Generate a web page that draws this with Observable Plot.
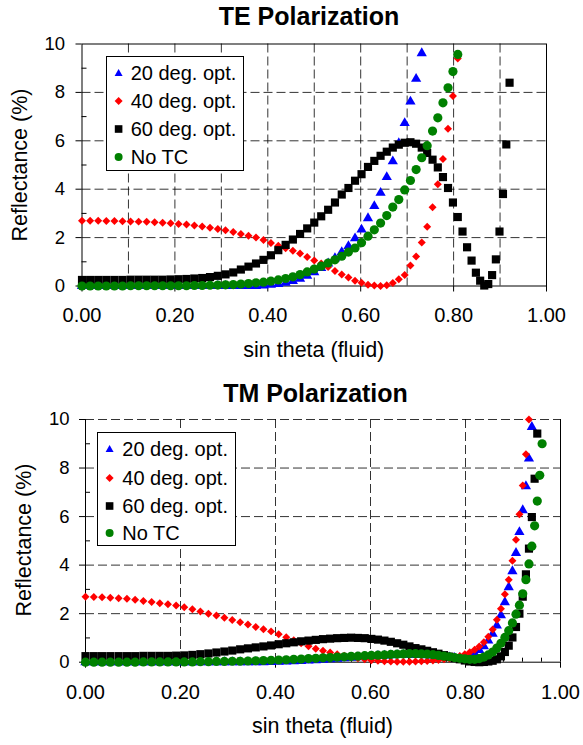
<!DOCTYPE html>
<html><head><meta charset="utf-8">
<script src="https://cdn.jsdelivr.net/npm/d3@7"></script>
<script src="https://cdn.jsdelivr.net/npm/@observablehq/plot@0.6"></script>
<style>
body{margin:0;background:#fff;font-family:"Liberation Sans",Arial,sans-serif;color:#000}
#wrap{position:relative;width:583px;height:745px;overflow:hidden}
.abs{position:absolute;white-space:nowrap;line-height:1;transform:translate(-50%,-50%)}
.title{font-weight:bold;font-size:25px}
.axlab{font-size:21.5px}
.ylab{transform:translate(-50%,-50%) rotate(-90deg)}
.legend{position:absolute;border:1px solid #000;background:#fff;box-sizing:border-box}
.row{position:absolute;left:0;height:20px;display:flex;align-items:center;font-size:20px;line-height:1;white-space:nowrap}
.row svg{flex:none}
</style></head><body><div id="wrap"></div><script>
// sin(theta) sample grid (theta = 0..75 degrees)
const sinTheta = [0, 0.0175, 0.0349, 0.0523, 0.0698, 0.0872, 0.1045, 0.1219, 0.1392, 0.1564,
  0.1736, 0.1908, 0.2079, 0.2250, 0.2419, 0.2588, 0.2756, 0.2924, 0.3090, 0.3256,
  0.3420, 0.3584, 0.3746, 0.3907, 0.4067, 0.4226, 0.4384, 0.4540, 0.4695, 0.4848,
  0.5000, 0.5150, 0.5299, 0.5446, 0.5592, 0.5736, 0.5878, 0.6018, 0.6157, 0.6293,
  0.6428, 0.6561, 0.6691, 0.6820, 0.6947, 0.7071, 0.7193, 0.7314, 0.7431, 0.7547,
  0.7660, 0.7771, 0.7880, 0.7986, 0.8090, 0.8192, 0.8290, 0.8387, 0.8480, 0.8572,
  0.8660, 0.8746, 0.8829, 0.8910, 0.8988, 0.9063, 0.9135, 0.9205, 0.9272, 0.9336,
  0.9397, 0.9455, 0.9511, 0.9563, 0.9613, 0.9659];

const seriesNames = ["20 deg. opt.", "40 deg. opt.", "60 deg. opt.", "No TC"];
const chartTitles = ["TE Polarization", "TM Polarization"];
const xLabel = "sin theta (fluid)";
const yLabel = "Reflectance (%)";

// TE polarization reflectance (%)
const teBlue = [0,0,0,0,0,0,0,0,0,0, 0,0,0,0,0,0,0,0,0,0,
  0,0,0,0.02,0.05,0.08,0.13,0.20,0.30,0.42, 0.57,0.74,0.93,1.15,1.40,1.65,1.97,2.33,2.80,3.30,
  3.85,4.50,5.15,5.90,6.73,7.62,8.56,9.62];
const teRed = [2.70,2.70,2.70,2.69,2.69,2.68,2.67,2.66,2.65,2.63,
  2.61,2.59,2.56,2.54,2.50,2.46,2.41,2.36,2.30,2.23,
  2.15,2.08,2.00,1.90,1.78,1.66,1.56,1.46,1.34,1.20,
  1.05,0.93,0.78,0.62,0.48,0.35,0.22,0.13,0.05,0.02,
  0.00,0.03,0.12,0.28,0.45,0.85,1.22,1.80,2.45,3.25,
  4.20,5.25,6.50,7.85,9.40];
const teBlack = [0.25,0.25,0.25,0.25,0.25,0.25,0.26,0.26,0.26,0.26,
  0.26,0.27,0.28,0.29,0.31,0.33,0.37,0.42,0.48,0.56,
  0.68,0.80,0.93,1.08,1.27,1.48,1.70,1.92,2.15,2.38,
  2.62,2.88,3.15,3.45,3.78,4.05,4.35,4.62,4.92,5.17,
  5.38,5.55,5.72,5.84,5.92,5.94,5.88,5.72,5.50,5.22,
  4.90,4.50,4.05,3.45,2.85,2.25,1.60,1.05,0.55,0.22,
  0.02,0.08,0.45,1.10,2.25,3.80,5.85,8.40];
const teGreen = [0,0,0,0,0,0,0.01,0.01,0.01,0.01,
  0.01,0.01,0.01,0.01,0.02,0.02,0.03,0.04,0.05,0.06,
  0.08,0.10,0.13,0.16,0.20,0.25,0.31,0.38,0.47,0.58,
  0.70,0.82,0.95,1.08,1.23,1.40,1.57,1.79,2.06,2.32,
  2.60,2.91,3.26,3.57,3.97,4.36,4.81,5.30,5.80,6.40,
  6.95,7.57,8.19,8.86,9.57];

// TM polarization reflectance (%)
const tmBlue = [0,0,0,0,0,0,0,0,0,0, 0,0,0,0,0,0,0,0,0,0,
  0,0,0,0.01,0.02,0.03,0.04,0.05,0.07,0.08,
  0.10,0.12,0.14,0.16,0.18,0.20,0.22,0.24,0.26,0.27,
  0.28,0.29,0.30,0.30,0.30,0.29,0.28,0.27,0.25,0.23,
  0.20,0.18,0.17,0.19,0.25,0.36,0.50,0.66,0.89,1.17,
  1.51,1.93,2.47,3.09,3.75,4.50,5.36,6.26,7.25,8.39,9.69];
const tmRed = [2.70,2.69,2.68,2.66,2.63,2.61,2.57,2.52,2.48,2.43,
  2.39,2.34,2.26,2.18,2.09,2.00,1.92,1.83,1.74,1.65,
  1.55,1.45,1.36,1.27,1.15,1.03,0.90,0.78,0.66,0.55,
  0.47,0.40,0.33,0.27,0.21,0.16,0.12,0.08,0.06,0.04,
  0.03,0.02,0.02,0.02,0.03,0.04,0.05,0.07,0.09,0.12,
  0.15,0.20,0.26,0.33,0.41,0.51,0.65,0.82,1.05,1.35,
  1.75,2.20,2.80,3.40,4.18,5.05,6.10,7.28,8.57,10.0];
const tmBlack = [0.25,0.25,0.25,0.25,0.25,0.25,0.25,0.26,0.26,0.26,
  0.26,0.27,0.28,0.30,0.33,0.36,0.40,0.44,0.48,0.53,
  0.57,0.61,0.65,0.69,0.74,0.78,0.82,0.86,0.89,0.92,
  0.95,0.97,0.99,1.00,1.01,1.00,0.99,0.96,0.93,0.89,
  0.84,0.78,0.72,0.65,0.58,0.53,0.47,0.41,0.35,0.29,
  0.23,0.17,0.12,0.07,0.03,0.01,0.00,0.01,0.03,0.06,
  0.12,0.24,0.42,0.68,1.02,1.45,2.00,2.70,3.62,4.68,
  5.98,7.56,9.42];
const tmGreen = [0,0,0,0,0,0,0,0.01,0.01,0.01,
  0.01,0.01,0.01,0.01,0.02,0.02,0.03,0.03,0.04,0.04,
  0.05,0.06,0.07,0.08,0.09,0.10,0.12,0.13,0.15,0.16,
  0.18,0.19,0.21,0.22,0.24,0.25,0.27,0.28,0.29,0.30,
  0.32,0.33,0.34,0.35,0.35,0.34,0.33,0.31,0.28,0.25,
  0.22,0.19,0.16,0.14,0.12,0.12,0.15,0.21,0.30,0.42,
  0.58,0.78,1.02,1.30,1.62,1.98,2.35,2.82,3.40,4.05,
  4.78,5.62,6.64,7.70,9.00];

// ticks and grid
const xMajorTicks = [0, 0.2, 0.4, 0.6, 0.8, 1.0];
const yMajorTicks = [0, 2, 4, 6, 8, 10];
const yMinorTicks = [1, 3, 5, 7, 9];
const yGrid = [2, 4, 6, 8];
const teGridX = [0.1, 0.2, 0.3, 0.4, 0.5, 0.6, 0.7, 0.8, 0.9];
const tmGridX = [0.2, 0.4, 0.6, 0.8];
const tmMinorX = [0.04,0.08,0.12,0.16,0.24,0.28,0.32,0.36,0.44,0.48,0.52,0.56,0.64,0.68,0.72,0.76,0.84,0.88,0.92,0.96];

// styles
const markStyles = [
  {symbol: "triangle", fill: "#0000ff", r: 3.8},
  {symbol: "diamond2", fill: "#ff0000", r: 3.6},
  {symbol: "square", fill: "#000000", r: 4.6},
  {symbol: "circle", fill: "#008000", r: 4.6}
];
const FONT = "'Liberation Sans', Arial, Helvetica, sans-serif";
const dash = {stroke: "#000", strokeOpacity: 0.8, strokeDasharray: "9,4"};

function rows(vals) { return vals.map((v, i) => ({s: sinTheta[i], v})); }

function makeChart(cfg) {
  const {height, mt, mb, ml, mr, series, gridX, minorX, solidTop, yPad, xPad} = cfg;
  const plotW = 583 - ml - mr, plotH = height - mt - mb;
  const marks = [
    Plot.ruleY(yGrid, dash),
    Plot.ruleX(gridX, dash)
  ];
  if (solidTop) {
    marks.push(Plot.frame({stroke: "#000"}));
  } else {
    marks.push(Plot.ruleY([10], dash), Plot.ruleX([0, 1], {stroke: "#000"}), Plot.ruleY([0], {stroke: "#000"}));
  }
  marks.push(Plot.ruleY(yMinorTicks, {stroke: "#000", insetRight: plotW - 5}));
  if (minorX) marks.push(Plot.ruleX(minorX, {stroke: "#000", insetTop: plotH - 4}));
  marks.push(
    Plot.axisX({ticks: xMajorTicks, tickSize: 6, tickPadding: xPad, tickFormat: d3.format(".2f"), fontSize: 20, label: null}),
    Plot.axisY({ticks: yMajorTicks, tickSize: 6, tickPadding: yPad, tickFormat: d => String(d), fontSize: 18.5, label: null})
  );
  series.forEach((vals, k) => {
    const st = markStyles[k];
    marks.push(Plot.dot(rows(vals), {x: "s", y: "v", symbol: st.symbol, r: st.r, fill: st.fill, stroke: "none"}));
  });
  return Plot.plot({
    width: 583, height,
    marginTop: mt, marginBottom: mb, marginLeft: ml, marginRight: mr,
    x: {domain: [0, 1]},
    y: {domain: [0, 10]},
    style: {fontFamily: FONT, fontSize: "20px", background: "white", color: "black", overflow: "visible"},
    marks
  });
}

const wrap = document.getElementById("wrap");

function place(el, left, topPx) {
  el.style.position = "absolute"; el.style.left = left + "px"; el.style.top = topPx + "px";
  wrap.appendChild(el);
}

const chartTE = makeChart({height: 370, mt: 43.5, mb: 84.5, ml: 81.5, mr: 37,
  series: [teBlue, teRed, teBlack, teGreen], gridX: teGridX, minorX: null, solidTop: true, yPad: 11, xPad: 16});
place(chartTE, 0, 0);
const chartTM = makeChart({height: 375, mt: 49, mb: 83.3, ml: 85, mr: 23,
  series: [tmBlue, tmRed, tmBlack, tmGreen], gridX: tmGridX, minorX: tmMinorX, solidTop: false, yPad: 10, xPad: 16.5});
place(chartTM, 0, 370);

function text(cls, str, cx, cy) {
  const d = document.createElement("div");
  d.className = "abs " + cls;
  d.textContent = str;
  d.style.left = cx + "px"; d.style.top = cy + "px";
  wrap.appendChild(d);
}
text("title", chartTitles[0], 309, 16.3);
text("title", chartTitles[1], 315.5, 393);
text("axlab", xLabel, 313.75, 351);
text("axlab", xLabel, 322.5, 726.5);
text("axlab ylab", yLabel, 20.5, 164.5);
text("axlab ylab", yLabel, 25, 540);

function markerSVG(k) {
  const ns = "http://www.w3.org/2000/svg";
  const svg = document.createElementNS(ns, "svg");
  svg.setAttribute("width", 25); svg.setAttribute("height", 20);
  const st = markStyles[k];
  let el;
  const cx = 12.6, cy = 10;
  if (k === 0) { el = document.createElementNS(ns, "polygon"); el.setAttribute("points", `${cx},${cy-4} ${cx+4},${cy+3} ${cx-4},${cy+3}`); }
  else if (k === 1) { el = document.createElementNS(ns, "polygon"); el.setAttribute("points", `${cx},${cy-4} ${cx+4},${cy} ${cx},${cy+4} ${cx-4},${cy}`); }
  else if (k === 2) { el = document.createElementNS(ns, "rect"); el.setAttribute("x", cx-3.8); el.setAttribute("y", cy-3.8); el.setAttribute("width", 7.6); el.setAttribute("height", 7.6); }
  else { el = document.createElementNS(ns, "circle"); el.setAttribute("cx", cx); el.setAttribute("cy", cy); el.setAttribute("r", 4); }
  el.setAttribute("fill", st.fill);
  svg.appendChild(el);
  return svg;
}

function legend(left, topY, w, h, rowCenters) {
  const box = document.createElement("div");
  box.className = "legend";
  box.style.left = left + "px"; box.style.top = topY + "px";
  box.style.width = w + "px"; box.style.height = h + "px";
  seriesNames.forEach((name, k) => {
    const r = document.createElement("div");
    r.className = "row";
    r.style.top = (rowCenters[k] - topY - 1 - 10) + "px";
    r.style.left = "-1px";
    r.appendChild(markerSVG(k));
    const s = document.createElement("span");
    s.textContent = name;
    r.appendChild(s);
    box.appendChild(r);
  });
  wrap.appendChild(box);
}
legend(105.7, 55.7, 138.6, 115.3, [72.7, 101, 129, 157]);
legend(97.3, 431.7, 138.7, 114.3, [449.3, 477.7, 505.7, 533.3]);
</script></body></html>
